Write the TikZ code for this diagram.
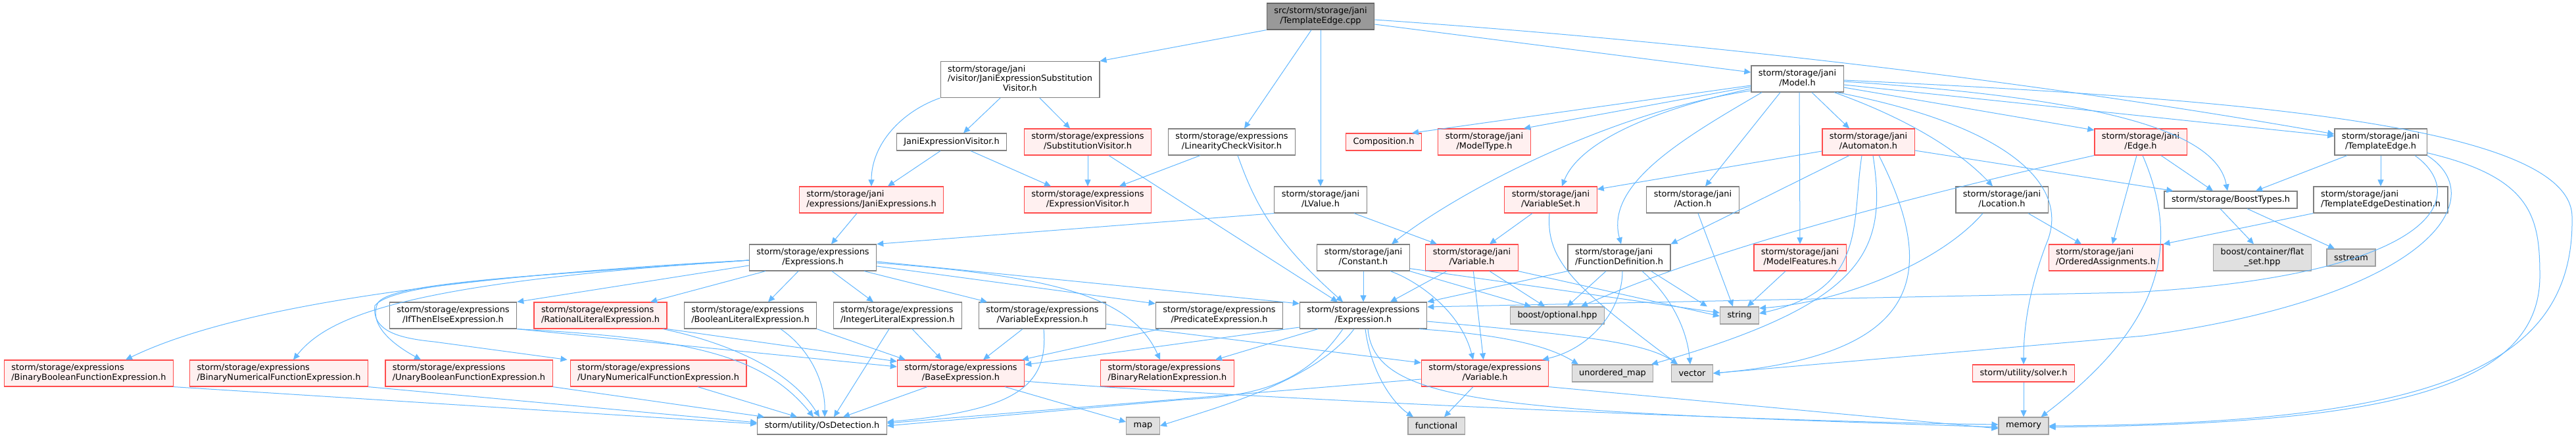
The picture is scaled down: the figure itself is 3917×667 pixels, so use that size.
\documentclass[tikz,border=0pt]{standalone}
\usepackage{fontspec}
\setmainfont{DejaVu Sans}
\usetikzlibrary{arrows.meta}
\definecolor{edgecol}{HTML}{63B8FF}
\definecolor{nborder}{HTML}{808080}
\definecolor{tborder}{HTML}{FF4C4C}
\definecolor{tfill}{HTML}{FFF0F0}
\definecolor{xborder}{HTML}{A0A0A0}
\definecolor{xfill}{HTML}{E0E0E0}
\definecolor{rfill}{HTML}{999999}
\definecolor{rborder}{HTML}{666666}
\newcommand{\twoL}[2]{\begin{tabular}{@{}l@{}}#1\\\multicolumn{1}{@{}c@{}}{#2}\end{tabular}}
\newcommand{\threeL}[3]{\begin{tabular}{@{}l@{}}#1\\#2\\\multicolumn{1}{@{}c@{}}{#3}\end{tabular}}
\tikzset{
  box/.style={draw=nborder, fill=white, line width=1.2pt, inner xsep=11pt, inner ysep=2pt,
              minimum height=26pt, font={\fontsize{12.9}{14.7}\selectfont}},
  two/.style={minimum height=40pt},
  three/.style={minimum height=55pt},
  trunc/.style={box, draw=tborder, fill=tfill},
  ext/.style={box, draw=xborder, fill=xfill},
  rootn/.style={box, draw=rborder, fill=rfill},
  dep/.style={draw=edgecol, line width=1pt, -{Triangle[length=10pt,width=9pt]}}
}
\begin{document}
\begin{tikzpicture}[x=1pt,y=-1pt]
\fill[white] (0,0) rectangle (3917,667);
\useasboundingbox (0,0) rectangle (3917,667);
% row 0
\node[rootn,two] (root) at (2008,25) {\twoL{src/storm/storage/jani}{/TemplateEdge.cpp}};
% row 1
\node[box,three] (jesv) at (1551,121) {\threeL{storm/storage/jani}{/visitor/JaniExpressionSubstitution}{Visitor.h}};
\node[box,two] (model) at (2733,120) {\twoL{storm/storage/jani}{/Model.h}};
% row 2
\node[box] (jev) at (1447,216) {JaniExpressionVisitor.h};
\node[trunc,two] (subv) at (1654,216) {\twoL{storm/storage/expressions}{/SubstitutionVisitor.h}};
\node[box,two] (lincheck) at (1873,216) {\twoL{storm/storage/expressions}{/LinearityCheckVisitor.h}};
\node[trunc] (composition) at (2104,216) {Composition.h};
\node[trunc,two] (modeltype) at (2257,216) {\twoL{storm/storage/jani}{/ModelType.h}};
\node[trunc,two] (automaton) at (2841,216) {\twoL{storm/storage/jani}{/Automaton.h}};
\node[trunc,two] (edge) at (3255,216) {\twoL{storm/storage/jani}{/Edge.h}};
\node[box,two] (templateedge) at (3620,216) {\twoL{storm/storage/jani}{/TemplateEdge.h}};
% row 3
\node[trunc,two] (janiexprs) at (1325,304) {\twoL{storm/storage/jani}{/expressions/JaniExpressions.h}};
\node[trunc,two] (exprvisitor) at (1654,304) {\twoL{storm/storage/expressions}{/ExpressionVisitor.h}};
\node[box,two] (lvalue) at (2008,304) {\twoL{storm/storage/jani}{/LValue.h}};
\node[trunc,two] (varset) at (2358,304) {\twoL{storm/storage/jani}{/VariableSet.h}};
\node[box,two] (action) at (2574,304) {\twoL{storm/storage/jani}{/Action.h}};
\node[box,two] (location) at (3044,304) {\twoL{storm/storage/jani}{/Location.h}};
\node[box] (boosttypes) at (3392,304) {storm/storage/BoostTypes.h};
\node[box,two] (ted) at (3620,304) {\twoL{storm/storage/jani}{/TemplateEdgeDestination.h}};
% row 4
\node[box,two] (expressions) at (1236,392) {\twoL{storm/storage/expressions}{/Expressions.h}};
\node[box,two] (constant) at (2073,392) {\twoL{storm/storage/jani}{/Constant.h}};
\node[trunc,two] (janivariable) at (2238,392) {\twoL{storm/storage/jani}{/Variable.h}};
\node[box,two] (fundef) at (2462,392) {\twoL{storm/storage/jani}{/FunctionDefinition.h}};
\node[trunc,two] (modelfeatures) at (2737,392) {\twoL{storm/storage/jani}{/ModelFeatures.h}};
\node[trunc,two] (orderedassign) at (3202,392) {\twoL{storm/storage/jani}{/OrderedAssignments.h}};
\node[ext,two] (flatset) at (3440,392) {\twoL{boost/container/flat}{\_set.hpp}};
\node[ext] (sstream) at (3575,392) {sstream};
% row 5
\node[box,two] (ifthenelse) at (689,480) {\twoL{storm/storage/expressions}{/IfThenElseExpression.h}};
\node[trunc,two] (rational) at (913,480) {\twoL{storm/storage/expressions}{/RationalLiteralExpression.h}};
\node[box,two] (boolliteral) at (1141,480) {\twoL{storm/storage/expressions}{/BooleanLiteralExpression.h}};
\node[box,two] (intliteral) at (1365,480) {\twoL{storm/storage/expressions}{/IntegerLiteralExpression.h}};
\node[box,two] (varexpr) at (1585,480) {\twoL{storm/storage/expressions}{/VariableExpression.h}};
\node[box,two] (predicate) at (1854,480) {\twoL{storm/storage/expressions}{/PredicateExpression.h}};
\node[box,two] (expression) at (2073,480) {\twoL{storm/storage/expressions}{/Expression.h}};
\node[ext] (optional) at (2368,480) {boost/optional.hpp};
\node[ext] (string) at (2645,480) {string};
% row 6
\node[trunc,two] (binbool) at (135,568) {\twoL{storm/storage/expressions}{/BinaryBooleanFunctionExpression.h}};
\node[trunc,two] (binnum) at (424,568) {\twoL{storm/storage/expressions}{/BinaryNumericalFunctionExpression.h}};
\node[trunc,two] (unbool) at (713,568) {\twoL{storm/storage/expressions}{/UnaryBooleanFunctionExpression.h}};
\node[trunc,two] (unnum) at (1001,568) {\twoL{storm/storage/expressions}{/UnaryNumericalFunctionExpression.h}};
\node[trunc,two] (baseexpr) at (1461,568) {\twoL{storm/storage/expressions}{/BaseExpression.h}};
\node[trunc,two] (binrel) at (1775,568) {\twoL{storm/storage/expressions}{/BinaryRelationExpression.h}};
\node[trunc,two] (exprvariable) at (2258,568) {\twoL{storm/storage/expressions}{/Variable.h}};
\node[ext] (unorderedmap) at (2452,568) {unordered\_map};
\node[ext] (vector) at (2573,568) {vector};
\node[trunc] (solver) at (3077,568) {storm/utility/solver.h};
% row 7
\node[box] (osdetect) at (1250,648) {storm/utility/OsDetection.h};
\node[ext] (map) at (1738,648) {map};
\node[ext] (functional) at (2184,648) {functional};
\node[ext] (memory) at (3077,648) {memory};

% ---- edges from root
\draw[dep] (root.south west) -- (jesv.north east);
\draw[dep] ([xshift=-14pt]root.south) -- ([xshift=19pt]lincheck.north);
\draw[dep] (root) -- (lvalue);
\draw[dep] ([yshift=-12pt]root.east) -- ([yshift=10pt]model.west);
\draw[dep] ([yshift=-5pt]root.east) .. controls (2600,65) and (3100,125) .. ([yshift=12pt]templateedge.west);
% visitor part
\draw[dep] (jesv.south west) .. controls (1370,170) and (1325,220) .. (janiexprs.north);
\draw[dep] ([xshift=-30pt]jesv.south) -- ([xshift=18pt]jev.north);
\draw[dep] ([xshift=30pt]jesv.south) -- ([xshift=-27pt]subv.north);
\draw[dep] ([xshift=-17pt]jev.south) -- ([xshift=25pt]janiexprs.north);
\draw[dep] ([xshift=29pt]jev.south) -- ([xshift=-56pt]exprvisitor.north);
\draw[dep] (subv) -- (exprvisitor);
\draw[dep] ([xshift=32pt]subv.south) -- ([xshift=-39pt]expression.north);
\draw[dep] ([xshift=-48pt]lincheck.south) -- ([xshift=48pt]exprvisitor.north);
\draw[dep] ([xshift=9pt]lincheck.south) .. controls (1905,300) and (1930,360) .. ([xshift=-31pt]expression.north);
\draw[dep] (lvalue.south west) -- (expressions.north east);
\draw[dep] ([xshift=51pt]lvalue.south) -- ([xshift=-53pt]janivariable.north);
\draw[dep] ([xshift=-22pt]janiexprs.south) -- ([xshift=28pt]expressions.north);
% model
\draw[dep] ([yshift=-10pt]model.west) -- ([xshift=43pt]composition.north);
\draw[dep] ([yshift=-12pt]model.west) -- ([xshift=60pt]modeltype.north);
\draw[dep] ([yshift=-15pt]model.west) .. controls (2500,170) and (2400,220) .. ([xshift=17pt]varset.north);
\draw[dep] ([yshift=-18pt]model.west) .. controls (2450,170) and (2220,290) .. ([xshift=43pt]constant.north);
\draw[dep] ([xshift=-54pt]model.south) .. controls (2560,210) and (2440,280) .. ([xshift=3pt]fundef.north);
\draw[dep] ([xshift=-26pt]model.south) -- ([xshift=19pt]action.north);
\draw[dep] ([xshift=3pt]model.south) -- (modelfeatures.north);
\draw[dep] ([xshift=22pt]model.south) -- ([xshift=-29pt]automaton.north);
\draw[dep] ([xshift=56pt]model.south) .. controls (2900,180) and (2980,230) .. ([xshift=-14pt]location.north);
\draw[dep] ([xshift=60pt]model.south) .. controls (3050,190) and (3150,280) .. (3112,370) .. controls (3085,440) and (3077,500) .. (solver.north);
\draw[dep] ([yshift=-13pt]model.east) -- ([yshift=18pt]edge.west);
\draw[dep] ([yshift=-9pt]model.east) -- ([yshift=9pt]templateedge.west);
\draw[dep] ([yshift=-4pt]model.east) .. controls (3200,150) and (3370,200) .. ([xshift=-5pt]boosttypes.north);
\draw[dep] ([yshift=-2pt]model.east) .. controls (3400,150) and (3910,190) .. (3911,330) .. controls (3915,560) and (3700,645) .. (memory.east);
% automaton
\draw[dep] ([yshift=-14pt]automaton.west) -- ([yshift=16pt]varset.east);
\draw[dep] ([yshift=-13pt]automaton.east) -- ([xshift=14pt]boosttypes.north west);
\draw[dep] ([xshift=-29pt]automaton.south) -- (fundef.north east);
\draw[dep] ([xshift=-10pt]automaton.south) .. controls (2815,340) and (2840,440) .. ([yshift=3pt]string.east);
\draw[dep] ([xshift=7pt]automaton.south) .. controls (2870,380) and (2840,460) .. ([xshift=59pt]unorderedmap.north);
\draw[dep] ([xshift=16pt]automaton.south) .. controls (2950,420) and (2920,540) .. (vector.east);
% location
\draw[dep] ([xshift=-29pt]location.south) .. controls (2950,400) and (2800,460) .. ([yshift=11pt]string.east);
\draw[dep] ([xshift=40pt]location.south) -- ([xshift=-37pt]orderedassign.north);
% edge
\draw[dep] (edge.south west) .. controls (2900,300) and (2600,380) .. ([xshift=36pt]optional.north);
\draw[dep] ([xshift=3pt]edge.south) .. controls (3320,380) and (3280,500) .. ([xshift=-12pt]memory.north east);
\draw[dep] ([xshift=31pt]edge.south) -- ([xshift=-27pt]boosttypes.north);
\draw[dep] ([xshift=-6pt]edge.south) -- ([xshift=10pt]orderedassign.north);
% template edge
\draw[dep] ([xshift=-51pt]templateedge.south) -- ([xshift=38pt]boosttypes.north);
\draw[dep] (templateedge) -- (ted);
\draw[dep] ([xshift=52pt]templateedge.south) .. controls (3760,300) and (3700,420) .. (3240,445) -- ([yshift=13pt]expression.east);
\draw[dep] (templateedge.south east) .. controls (3790,300) and (3700,450) .. (3260,511) -- (vector.east);
\draw[dep] ([yshift=4pt]templateedge.south east) .. controls (3850,270) and (3862,330) .. (3862,420) .. controls (3862,600) and (3600,645) .. ([yshift=-2pt]memory.east);
\draw[dep] (ted.south west) -- (orderedassign.north east);
% boost types
\draw[dep] ([xshift=-16pt]boosttypes.south) -- ([xshift=-13pt]flatset.north);
\draw[dep] ([xshift=25pt]boosttypes.south) -- ([xshift=-25pt]sstream.north);
% varset, action, features
\draw[dep] ([xshift=-28pt]varset.south) -- ([xshift=27pt]janivariable.north);
\draw[dep] ([xshift=-2pt]varset.south) .. controls (2350,400) and (2400,440) .. ([xshift=-22pt]vector.north);
\draw[dep] ([xshift=8pt]action.south) -- ([xshift=-10pt]string.north);
\draw[dep] ([xshift=-22pt]modelfeatures.south) -- ([xshift=12pt]string.north);
% constant
\draw[dep] (constant) -- (expression);
\draw[dep] (constant.south east) -- ([xshift=-40pt]optional.north);
\draw[dep] ([yshift=4pt]constant.south east) -- ([yshift=4pt]string.west);
\draw[dep] ([xshift=41pt]constant.south) .. controls (2150,425) and (2220,470) .. ([xshift=-18pt]exprvariable.north);
% jani variable
\draw[dep] ([xshift=-38pt]janivariable.south) -- ([xshift=41pt]expression.north);
\draw[dep] ([xshift=27pt]janivariable.south) -- ([xshift=-19pt]optional.north);
\draw[dep] (janivariable) -- (exprvariable);
\draw[dep] (janivariable.south east) -- ([yshift=-1pt]string.west);
% function definition
\draw[dep] (fundef.south west) -- (expression.north east);
\draw[dep] ([xshift=-20pt]fundef.south) -- ([xshift=15pt]optional.north);
\draw[dep] ([xshift=5pt]fundef.south) .. controls (2467,470) and (2420,530) .. ([xshift=87pt]exprvariable.north);
\draw[dep] ([xshift=35pt]fundef.south) .. controls (2540,450) and (2565,500) .. ([xshift=-3pt]vector.north);
\draw[dep] ([xshift=-30pt]fundef.south east) -- ([xshift=-19pt]string.north west);
% expressions
\draw[dep] ([yshift=-4pt]expressions.west) .. controls (600,425) and (330,480) .. ([xshift=56pt]binbool.north);
\draw[dep] ([yshift=-4pt]expressions.west) .. controls (620,430) and (500,480) .. ([xshift=22pt]binnum.north);
\draw[dep] ([yshift=-4pt]expressions.west) .. controls (800,420) and (600,430) .. (575,460) .. controls (560,490) and (590,520) .. ([xshift=-73pt]unbool.north);
\draw[dep] ([yshift=-4pt]expressions.west) .. controls (800,420) and (600,430) .. (570,465) .. controls (565,505) and (610,515) .. (660,520) -- ([xshift=-4pt]unnum.north west);
\draw[dep] ([yshift=-12pt]expressions.west) -- (ifthenelse.north east);
\draw[dep] ([xshift=-72pt]expressions.south) -- ([xshift=76pt]rational.north);
\draw[dep] ([xshift=-22pt]expressions.south) -- ([xshift=27pt]boolliteral.north);
\draw[dep] ([xshift=29pt]expressions.south) -- ([xshift=-37pt]intliteral.north);
\draw[dep] ([xshift=78pt]expressions.south) -- ([xshift=-84pt]varexpr.north);
\draw[dep] ([yshift=-13pt]expressions.east) -- ([yshift=18pt]predicate.west);
\draw[dep] ([yshift=-8pt]expressions.east) .. controls (1600,420) and (1720,450) .. ([xshift=-11pt]binrel.north);
\draw[dep] ([yshift=-6pt]expressions.east) -- ([yshift=18pt]expression.west);
% expression
\draw[dep] ([yshift=-18pt]expression.west) -- ([yshift=13pt]baseexpr.east);
\draw[dep] ([xshift=-69pt]expression.south) -- ([xshift=73pt]binrel.north);
\draw[dep] ([xshift=-31pt]expression.south) .. controls (1980,590) and (1900,603) .. (1800,608) -- (osdetect.east);
\draw[dep] ([xshift=-14pt]expression.south) .. controls (2000,580) and (1850,620) .. (map.east);
\draw[dep] ([xshift=7pt]expression.south) .. controls (2090,620) and (2300,625) .. ([yshift=-2pt]memory.west);
\draw[dep] ([xshift=3pt]expression.south) .. controls (2085,570) and (2120,615) .. ([xshift=-35pt]functional.north);
\draw[dep] ([xshift=85pt]expression.south) .. controls (2300,510) and (2360,530) .. ([xshift=-52pt]unorderedmap.north);
\draw[dep] ([yshift=-9pt]expression.east) .. controls (2400,510) and (2500,520) .. ([xshift=-22pt]vector.north);
% expression variable
\draw[dep] ([xshift=-18pt]exprvariable.south) -- ([xshift=12pt]functional.north);
\draw[dep] (exprvariable.south east) -- ([yshift=-4pt]memory.west);
\draw[dep] ([yshift=-9pt]exprvariable.west) -- ([yshift=4pt]osdetect.east);
% variable expression
\draw[dep] ([yshift=-13pt]varexpr.east) -- ([yshift=16pt]exprvariable.west);
\draw[dep] ([xshift=-30pt]varexpr.south) -- ([xshift=34pt]baseexpr.north);
\draw[dep] ([xshift=2pt]varexpr.south) .. controls (1595,590) and (1540,625) .. ([yshift=6pt]osdetect.east);
% literals etc.
\draw[dep] ([xshift=22pt]intliteral.south) -- ([xshift=-29pt]baseexpr.north);
\draw[dep] ([xshift=-13pt]intliteral.south) -- ([xshift=18pt]osdetect.north);
\draw[dep] ([xshift=-90pt]predicate.south) -- ([xshift=93pt]baseexpr.north);
\draw[dep] (ifthenelse.south east) -- ([yshift=10pt]baseexpr.west);
\draw[dep] (ifthenelse.south east) .. controls (1050,515) and (1160,540) .. ([xshift=-13pt]osdetect.north);
\draw[dep] (rational.south east) -- ([yshift=18pt]baseexpr.west);
\draw[dep] ([xshift=95pt]rational.south) .. controls (1100,520) and (1200,560) .. ([xshift=-4pt]osdetect.north);
\draw[dep] ([xshift=46pt]boolliteral.south) .. controls (1230,530) and (1255,580) .. ([xshift=4pt]osdetect.north);
\draw[dep] (boolliteral.south east) -- ([xshift=13pt]baseexpr.north west);
\draw[dep] (binbool.south east) -- ([yshift=3pt]osdetect.west);
\draw[dep] (binnum.south east) -- ([yshift=5pt]osdetect.west);
\draw[dep] (unbool.south east) -- ([xshift=11pt]osdetect.north west);
\draw[dep] ([xshift=60pt]unnum.south) -- ([xshift=-38pt]osdetect.north);
% base expression
\draw[dep] ([xshift=-51pt]baseexpr.south) -- ([xshift=32pt]osdetect.north);
\draw[dep] ([xshift=67pt]baseexpr.south) -- ([yshift=6pt]map.west);
\draw[dep] ([yshift=-12pt]baseexpr.east) .. controls (1800,600) and (2600,640) .. ([yshift=2pt]memory.west);
% solver
\draw[dep] (solver) -- (memory);
\end{tikzpicture}
\end{document}
